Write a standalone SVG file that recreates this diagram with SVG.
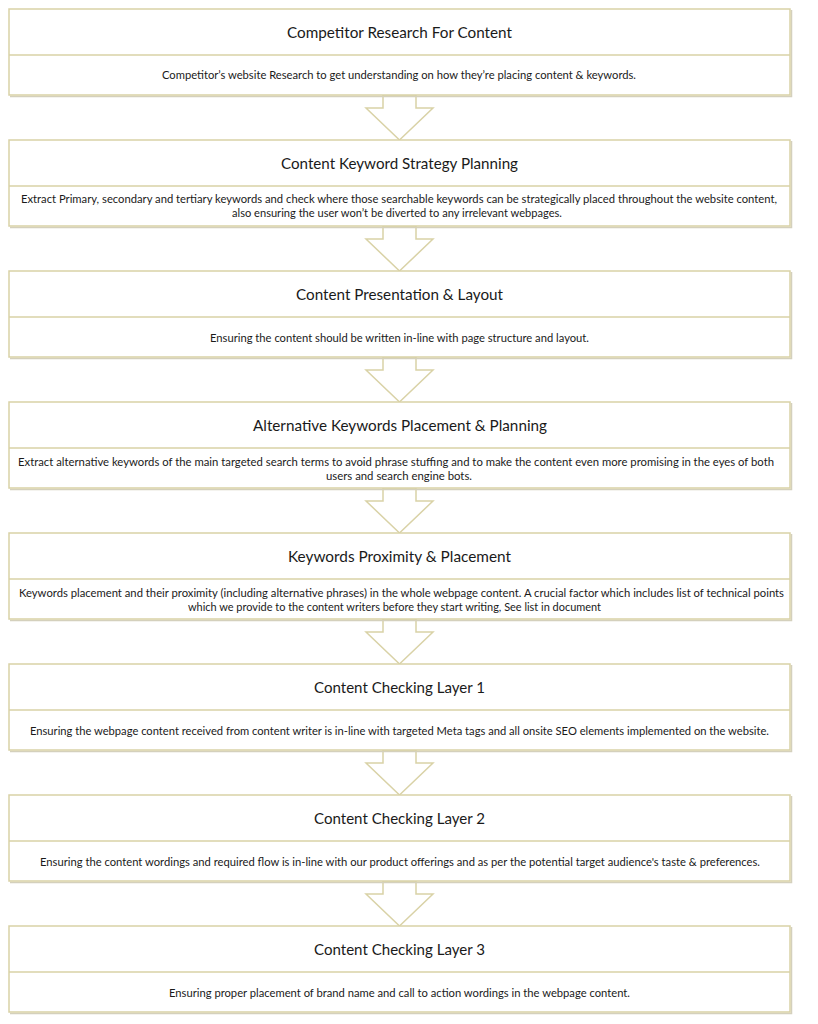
<svg xmlns="http://www.w3.org/2000/svg" width="818" height="1024" viewBox="0 0 818 1024">
<style>
  .bg { fill: #ffffff; }
  .box { fill: #ffffff; stroke: #d9d2a6; stroke-width: 1.5; }
  .shadow { fill: none; stroke: #d4d0bc; stroke-width: 1.5; }
  .div { stroke: #d9d2a6; stroke-width: 1.5; }
  .arrow { fill: #ffffff; stroke: #d9d2a6; stroke-width: 1.5; stroke-linejoin: miter; }
  .title { font-family: Lato, "Open Sans", sans-serif; font-size: 16px; fill: #1a1a1a; }
  .desc { font-family: Lato, "Open Sans", sans-serif; font-size: 11px; fill: #1a1a1a; }
</style>
<rect class="bg" x="0" y="0" width="818" height="1024"/>

<g id="connectors">
  <polygon class="arrow" points="383,95 383,108 366,108 399.5,140 433,108 416,108 416,95"/>
  <polygon class="arrow" points="383,226 383,239 366,239 399.5,271 433,239 416,239 416,226"/>
  <polygon class="arrow" points="383,357 383,370 366,370 399.5,402 433,370 416,370 416,357"/>
  <polygon class="arrow" points="383,488 383,501 366,501 399.5,533 433,501 416,501 416,488"/>
  <polygon class="arrow" points="383,619 383,632 366,632 399.5,664 433,632 416,632 416,619"/>
  <polygon class="arrow" points="383,750 383,763 366,763 399.5,795 433,763 416,763 416,750"/>
  <polygon class="arrow" points="383,881 383,894 366,894 399.5,926 433,894 416,894 416,881"/>
</g>

<g id="node1">
  <polyline class="shadow" points="10,96.5 791.5,96.5 791.5,10"/>
  <rect class="box" x="9" y="9" width="781" height="86"/>
  <line class="div" x1="9" y1="55" x2="790" y2="55"/>
  <text class="title" x="287" y="37.5" textLength="225" lengthAdjust="spacingAndGlyphs">Competitor Research For Content</text>
  <text class="desc" x="162" y="79" textLength="474" lengthAdjust="spacingAndGlyphs">Competitor’s website Research to get understanding on how they’re placing content &amp; keywords.</text>
</g>

<g id="node2">
  <polyline class="shadow" points="10,227.5 791.5,227.5 791.5,141"/>
  <rect class="box" x="9" y="140" width="781" height="86"/>
  <line class="div" x1="9" y1="186" x2="790" y2="186"/>
  <text class="title" x="281" y="168.5" textLength="237" lengthAdjust="spacingAndGlyphs">Content Keyword Strategy Planning</text>
  <text class="desc" x="21" y="203" textLength="756" lengthAdjust="spacingAndGlyphs">Extract Primary, secondary and tertiary keywords and check where those searchable keywords can be  strategically placed throughout the website content,</text>
  <text class="desc" x="232" y="217" textLength="330" lengthAdjust="spacingAndGlyphs">also ensuring the user won’t be diverted to any irrelevant webpages.</text>
</g>

<g id="node3">
  <polyline class="shadow" points="10,358.5 791.5,358.5 791.5,272"/>
  <rect class="box" x="9" y="271" width="781" height="86"/>
  <line class="div" x1="9" y1="317" x2="790" y2="317"/>
  <text class="title" x="296" y="299.5" textLength="207" lengthAdjust="spacingAndGlyphs">Content Presentation &amp; Layout</text>
  <text class="desc" x="210" y="341.5" textLength="379" lengthAdjust="spacingAndGlyphs">Ensuring the content should be written in-line with page structure and layout.</text>
</g>

<g id="node4">
  <polyline class="shadow" points="10,489.5 791.5,489.5 791.5,403"/>
  <rect class="box" x="9" y="402" width="781" height="86"/>
  <line class="div" x1="9" y1="448" x2="790" y2="448"/>
  <text class="title" x="253" y="430.5" textLength="294" lengthAdjust="spacingAndGlyphs">Alternative Keywords Placement &amp; Planning</text>
  <text class="desc" x="18" y="466" textLength="756" lengthAdjust="spacingAndGlyphs">Extract alternative keywords of the main targeted search terms to avoid phrase stuffing and to make the content even more promising in the eyes of both</text>
  <text class="desc" x="326" y="480" textLength="146" lengthAdjust="spacingAndGlyphs">users and search engine bots.</text>
</g>

<g id="node5">
  <polyline class="shadow" points="10,620.5 791.5,620.5 791.5,534"/>
  <rect class="box" x="9" y="533" width="781" height="86"/>
  <line class="div" x1="9" y1="579" x2="790" y2="579"/>
  <text class="title" x="288" y="561.5" textLength="223" lengthAdjust="spacingAndGlyphs">Keywords Proximity &amp; Placement</text>
  <text class="desc" x="19" y="597" textLength="765" lengthAdjust="spacingAndGlyphs">Keywords placement and their proximity (including alternative phrases) in the whole webpage content. A crucial factor which includes list of technical points</text>
  <text class="desc" x="188" y="611" textLength="413" lengthAdjust="spacingAndGlyphs">which we provide to the content writers before they start writing, See list in document</text>
</g>

<g id="node6">
  <polyline class="shadow" points="10,751.5 791.5,751.5 791.5,665"/>
  <rect class="box" x="9" y="664" width="781" height="86"/>
  <line class="div" x1="9" y1="710" x2="790" y2="710"/>
  <text class="title" x="314" y="692.5" textLength="171" lengthAdjust="spacingAndGlyphs">Content Checking Layer 1</text>
  <text class="desc" x="30" y="734.5" textLength="739" lengthAdjust="spacingAndGlyphs">Ensuring the webpage content received from content writer is in-line with targeted Meta tags and all onsite SEO elements implemented on the website.</text>
</g>

<g id="node7">
  <polyline class="shadow" points="10,882.5 791.5,882.5 791.5,796"/>
  <rect class="box" x="9" y="795" width="781" height="86"/>
  <line class="div" x1="9" y1="841" x2="790" y2="841"/>
  <text class="title" x="314" y="823.5" textLength="171" lengthAdjust="spacingAndGlyphs">Content Checking Layer 2</text>
  <text class="desc" x="40" y="865.5" textLength="720" lengthAdjust="spacingAndGlyphs">Ensuring the content wordings and required flow is in-line with our product offerings and as per the potential target audience's taste &amp; preferences.</text>
</g>

<g id="node8">
  <polyline class="shadow" points="10,1013.5 791.5,1013.5 791.5,927"/>
  <rect class="box" x="9" y="926" width="781" height="86"/>
  <line class="div" x1="9" y1="972" x2="790" y2="972"/>
  <text class="title" x="314" y="954.5" textLength="171" lengthAdjust="spacingAndGlyphs">Content Checking Layer 3</text>
  <text class="desc" x="169" y="996.5" textLength="461" lengthAdjust="spacingAndGlyphs">Ensuring proper placement of brand name and call to action wordings in the webpage content.</text>
</g>
</svg>
